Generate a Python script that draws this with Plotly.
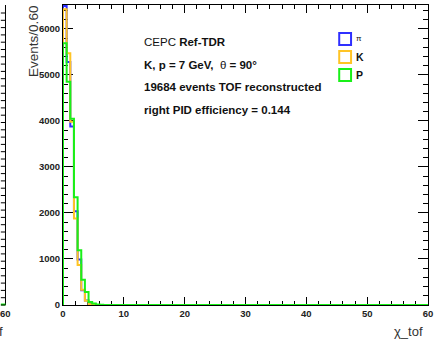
import plotly.graph_objects as go

# ---------------- data (Events per 0.6 bin of chi_tof, bins from 0 to 60) ----------------
bin_width = 0.6
n_bins = 100
pi_counts = [6500, 5280, 3880, 2040, 990, 320, 100, 20, 5] + [0] * 91
k_counts = [6430, 5470, 3980, 1880, 870, 330, 90, 15, 3] + [0] * 91
p_counts = [5690, 4850, 4050, 2340, 1190, 550, 280, 65, 30, 10, 5] + [0] * 89

x_ticks = [0, 10, 20, 30, 40, 50, 60]
y_ticks = [0, 1000, 2000, 3000, 4000, 5000, 6000]
series_names = ["π", "K", "P"]
series_colors = ["#2f2fff", "#ffc425", "#19f019"]

info_lines = [
    "CEPC <b>Ref-TDR</b>",
    "<b>K, p = 7 GeV,</b>  θ <b>= 90°</b>",
    "<b>19684 events TOF reconstructed</b>",
    "<b>right PID efficiency = 0.144</b>",
]

# ---------------- figure geometry (pixels) ----------------
W, H = 434, 340
L, R, T, B = 63, 1, 5, 35
PX0, PX1 = L, W - R
PY0, PY1 = T, H - B
Y_MAX = 6520


def px2x(px):
    return (px - PX0) / (PX1 - PX0)


def py2y(py):
    return (PY1 - py) / (PY1 - PY0)


def step_xy(counts):
    xs = [0.0]
    ys = [0.0]
    for i, c in enumerate(counts):
        xs.append(round(i * bin_width, 6))
        ys.append(c)
    xs.append(round(n_bins * bin_width, 6))
    ys.append(counts[-1])
    return xs, ys


fig = go.Figure()
for name, counts, color in zip(series_names, [pi_counts, k_counts, p_counts], series_colors):
    xs, ys = step_xy(counts)
    fig.add_trace(go.Scatter(x=xs, y=ys, mode="lines", line=dict(color=color, width=2, shape="hv"),
                             name=name, showlegend=False, hoverinfo="skip"))

tickfont = dict(family="Liberation Sans", size=9.5, color="#222222")
fig.update_layout(
    width=W, height=H,
    margin=dict(l=L, r=R, t=T, b=B, pad=0),
    paper_bgcolor="white", plot_bgcolor="white",
    showlegend=False,
    xaxis=dict(range=[0, 60], tickvals=x_ticks, ticktext=[f"<b>{v}</b>" for v in x_ticks],
               ticks="inside", ticklen=8, tickwidth=1, tickcolor="black",
               minor=dict(dtick=2, ticks="inside", ticklen=4, tickcolor="black"),
               showline=True, linecolor="black", linewidth=1, mirror="ticks",
               showgrid=False, zeroline=False, tickfont=tickfont, layer="below traces",
               ticklabeloverflow="allow"),
    yaxis=dict(range=[0, Y_MAX], tickvals=y_ticks, ticktext=[f"<b>{v}</b>" for v in y_ticks],
               ticks="inside", ticklen=10, tickwidth=1, tickcolor="black",
               minor=dict(dtick=200, ticks="inside", ticklen=5, tickcolor="black"),
               showline=True, linecolor="black", linewidth=1, mirror="ticks",
               showgrid=False, zeroline=False, tickfont=tickfont, layer="below traces",
               ticklabeloverflow="allow"),
)

ann = []
# axis titles
ann.append(dict(text="Events/0.60", textangle=-90, x=px2x(33), y=py2y(4), xref="paper", yref="paper",
                xanchor="center", yanchor="top", showarrow=False,
                font=dict(family="Liberation Sans", size=13.5, color="#333333")))
ann.append(dict(text="χ_tof", x=px2x(430), y=py2y(331), xref="paper", yref="paper",
                xanchor="right", yanchor="middle", showarrow=False,
                font=dict(family="Liberation Sans", size=13, color="#333333")))
# info text
for i, line in enumerate(info_lines):
    ann.append(dict(text=line, x=px2x(143), y=py2y(42 + i * 22.5), xref="paper", yref="paper",
                    xanchor="left", yanchor="middle", showarrow=False,
                    font=dict(family="Liberation Sans", size=11.5, color="#111111")))

shapes = []
# legend boxes
for i, (name, color) in enumerate(zip(series_names, series_colors)):
    top = 33 + i * 18
    shapes.append(dict(type="rect", xref="paper", yref="paper",
                       x0=px2x(343), x1=px2x(355), y0=py2y(top), y1=py2y(top + 12),
                       line=dict(color=color, width=2), fillcolor="rgba(0,0,0,0)"))
    ann.append(dict(text=name if name == "π" else f"<b>{name}</b>", x=px2x(358), y=py2y(top + 6),
                    xref="paper", yref="paper", xanchor="left", yanchor="middle", showarrow=False,
                    font=dict(family="Liberation Sans", size=8 if name == "π" else 10.5, color="#111111")))

# remnant of neighbouring panel on the left
shapes.append(dict(type="line", xref="paper", yref="paper", x0=px2x(4.7), x1=px2x(4.7),
                   y0=py2y(5), y1=py2y(305), line=dict(color="black", width=1)))
shapes.append(dict(type="line", xref="paper", yref="paper", x0=px2x(0), x1=px2x(4.7),
                   y0=py2y(304.5), y1=py2y(304.5), line=dict(color="#19f019", width=2)))
k = 0
while 305 - k * 7.3 > 6:
    yy = 305 - k * 7.3
    shapes.append(dict(type="line", xref="paper", yref="paper", x0=px2x(0), x1=px2x(4.7),
                       y0=py2y(yy), y1=py2y(yy), line=dict(color="black", width=1)))
    k += 1
ann.append(dict(text="<b>60</b>", x=px2x(4.5), y=py2y(313), xref="paper", yref="paper",
                xanchor="center", yanchor="middle", showarrow=False,
                font=dict(family="Liberation Sans", size=9.5, color="#222222")))
ann.append(dict(text="χ_tof", x=px2x(4), y=py2y(331), xref="paper", yref="paper",
                xanchor="right", yanchor="middle", showarrow=False,
                font=dict(family="Liberation Sans", size=13, color="#333333")))

fig.update_layout(annotations=ann, shapes=shapes)
fig.write_html("out.html", config={"displayModeBar": False},
               post_script="document.body.style.margin='0';document.body.style.padding='0';")
